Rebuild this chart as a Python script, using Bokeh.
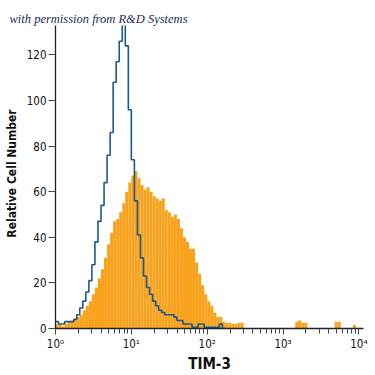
import numpy as np
from bokeh.plotting import figure
from bokeh.models import FixedTicker, Range1d
from bokeh.embed import file_html
from bokeh.resources import INLINE

# histogram channels: 25 per decade, starting at 10^0
bins_per_decade = 25

# isotype control (blue outline)
blue_counts = [
    3, 2, 2, 3, 3, 3, 4, 6, 9, 12,
    16, 21, 28, 38, 47, 54, 64, 76, 86, 108,
    117, 126, 135, 124, 96, 74, 56, 41, 31, 23,
    18, 15, 12, 10, 8, 7, 6, 6, 6, 5,
    3.5, 3.5, 2, 2, 2, 0.5, 0.5, 2, 2, 0.5,
    0.5, 0.5, 0.5, 0.5, 2, 0,
]

# anti-TIM-3 stained (orange filled)
orange_counts = [
    2, 2, 1, 2, 3, 3.5, 4, 5, 6, 8,
    10, 12, 15, 18, 22, 26, 31, 37, 42, 47,
    48, 51, 55, 60, 64, 67, 69, 66, 63, 61,
    62, 60, 58, 57, 56, 57, 52, 51, 49, 50,
    48, 44, 40, 38, 35, 35, 29, 24, 19, 15,
    12, 10, 7, 5, 5, 3, 2.5, 2.5, 2, 2,
    2.5, 2.5, 0, 0, 0, 0, 0, 0, 0, 0,
    0, 0, 0, 0, 0, 0, 0, 0, 0, 3,
    3.5, 2.5, 2.5, 0, 0, 0, 0, 0, 0, 0,
    0, 0, 3, 3, 0, 0, 0, 0, 1.5, 0,
]

x_tick_values = [1, 10, 100, 1000, 10000]
x_tick_labels = ["10\u2070", "10\u00b9", "10\u00b2", "10\u00b3", "10\u2074"]
y_tick_values = [0, 20, 40, 60, 80, 100, 120]

ORANGE = "#f8a21c"
BLUE = "#1c5a8c"
FONT = "DejaVu Sans Condensed, Roboto, sans-serif"

n_o = len(orange_counts)
edges_o = 10 ** (np.arange(n_o + 1) / bins_per_decade)
n_b = len(blue_counts)
edges_b = 10 ** (np.arange(n_b + 1) / bins_per_decade)

p = figure(
    width=375, height=375,
    x_axis_type="log",
    x_range=Range1d(1, 10 ** 4.06),
    y_range=Range1d(0, 136),
    output_backend="svg",
    toolbar_location=None,
    min_border_left=55, min_border_right=12,
    min_border_top=18, min_border_bottom=47,
)
p.outline_line_color = None
p.grid.visible = False
p.background_fill_color = "white"

p.quad(left=edges_o[:-1], right=edges_o[1:], bottom=0, top=orange_counts,
       fill_color=ORANGE, line_color=None)

bx = list(edges_b)
by = list(blue_counts) + [blue_counts[-1]]
p.step(x=bx, y=by, mode="after", line_color=BLUE, line_width=1.6)

minor = [m * 10 ** d for d in range(4) for m in range(2, 10)]
p.xaxis.ticker = FixedTicker(ticks=x_tick_values, minor_ticks=minor)
p.xaxis.major_label_overrides = {v: l for v, l in zip(x_tick_values, x_tick_labels)}
p.yaxis.ticker = FixedTicker(ticks=y_tick_values, minor_ticks=[])

for ax in (p.xaxis[0], p.yaxis[0]):
    ax.axis_line_color = "#222222"
    ax.axis_line_width = 1.3
    ax.major_tick_line_color = "#444444"
    ax.minor_tick_line_color = "#444444"
    ax.major_tick_in = 0
    ax.minor_tick_in = 0
    ax.major_label_text_font = FONT
    ax.major_label_text_font_size = "11.5px"
    ax.major_label_text_color = "#111111"
    ax.axis_label_text_font = FONT
    ax.axis_label_text_font_style = "bold"
    ax.axis_label_text_color = "#111111"

p.xaxis.major_tick_out = 6
p.xaxis.minor_tick_out = 5
p.xaxis.major_label_standoff = 2
p.xaxis.axis_label = "TIM-3"
p.xaxis.axis_label_text_font_size = "15px"
p.xaxis.axis_label_standoff = 1

p.yaxis.major_tick_out = 7
p.yaxis.major_label_standoff = 2
p.yaxis.axis_label = "Relative Cell Number"
p.yaxis.axis_label_text_font_size = "12px"
p.yaxis.axis_label_standoff = 5

p.title.text = "with permission from R&D Systems"
p.title.align = "left"
p.title.offset = -46
p.title.standoff = -14
p.title.vertical_align = "bottom"
p.title.text_font = "Liberation Serif"
p.title.text_font_style = "italic"
p.title.text_font_size = "12.5px"
p.title.text_color = "#1c2a5c"
p.title.background_fill_color = "white"

open("out.html", "w").write(file_html(p, INLINE))
